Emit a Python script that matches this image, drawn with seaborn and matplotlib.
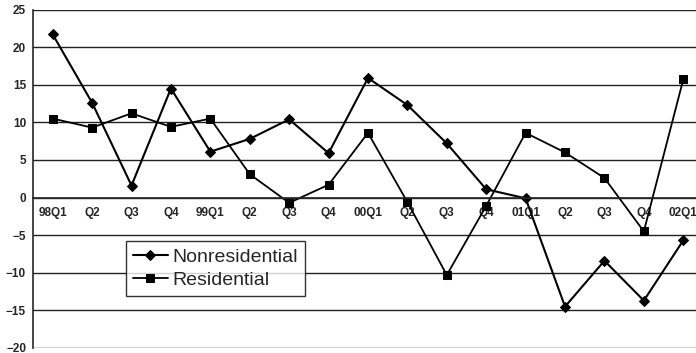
import pandas as pd
import numpy as np
import seaborn as sns
from matplotlib import pyplot as plt

sns.set_style("white")
plt.rcParams['font.family'] = ['Liberation Sans', 'DejaVu Sans']

# Data ~~~~~~~~~~~~~~~~~~~~~~~~~~~~~~~~~~~~~~~~~~~~~~~~~~~~~~~~~~~~~~~~~
periods = ['1998Q1', '1998Q2', '1998Q3', '1998Q4',
           '1999Q1', '1999Q2', '1999Q3', '1999Q4',
           '2000Q1', '2000Q2', '2000Q3', '2000Q4',
           '2001Q1', '2001Q2', '2001Q3', '2001Q4',
           '2002Q1']
tick_labels = ['98Q1', 'Q2', 'Q3', 'Q4', '99Q1', 'Q2', 'Q3', 'Q4',
               '00Q1', 'Q2', 'Q3', 'Q4', '01Q1', 'Q2', 'Q3', 'Q4', '02Q1']
nonresidential = [21.7, 12.6, 1.6, 14.5, 6.1, 7.8, 10.4, 5.9,
                  15.9, 12.3, 7.2, 1.1, -0.1, -14.5, -8.4, -13.7, -5.7]
residential = [10.5, 9.3, 11.2, 9.4, 10.5, 3.1, -0.7, 1.7,
               8.6, -0.6, -10.3, -1.1, 8.6, 6.0, 2.6, -4.5, 15.7]

df = pd.DataFrame({'period': periods,
                   'Nonresidential': nonresidential,
                   'Residential': residential})

fig = plt.figure(figsize=(6.96, 3.53), dpi=100)
ax = fig.add_axes([0.0474, 0.0142, 0.9626, 0.9588])

sns.lineplot(data=df, x='period', y='Nonresidential', sort=False, ax=ax,
             color='black', lw=1.5, marker='D', markersize=5.5,
             markeredgecolor='black', label='Nonresidential')
sns.lineplot(data=df, x='period', y='Residential', sort=False, ax=ax,
             color='black', lw=1.3, marker='s', markersize=6,
             markeredgecolor='black', label='Residential')

n = len(periods)
ax.set_xlim(-0.5, n - 0.5)
ax.set_ylim(-20, 25)
ax.set_yticks(range(-20, 26, 5))
ax.yaxis.grid(True, color='#222222', lw=1)
ax.set_axisbelow(True)

# category axis crossing at zero
ax.spines['bottom'].set_position(('data', 0))
ax.spines['top'].set_visible(False)
ax.spines['right'].set_visible(False)
ax.spines['left'].set_linewidth(1.2)
ax.spines['bottom'].set_linewidth(1.2)
ax.set_xticks(np.arange(n) + 0.5)
ax.set_xticklabels([])
ax.set_xticks(np.arange(n), minor=True)
ax.set_xticklabels(tick_labels, minor=True)
ax.tick_params(axis='x', which='major', direction='inout', length=5, width=1)
ax.tick_params(axis='x', which='minor', length=0, pad=7, labelsize=8.5)
ax.tick_params(axis='y', direction='out', length=3, width=1, pad=2, labelsize=8.5)
for t in ax.get_xticklabels(minor=True) + ax.get_yticklabels():
    t.set_fontweight('bold')
ax.set_xlabel('')
ax.set_ylabel('')

leg = ax.legend(loc='lower left', bbox_to_anchor=(0.139, 0.154), borderaxespad=0,
                fontsize=14, frameon=True, fancybox=False, handlelength=1.8,
                handletextpad=0.25, borderpad=0.35, labelspacing=0.3)
leg.get_frame().set_edgecolor('black')
leg.get_frame().set_linewidth(1)

fig.savefig('out.png', dpi=100)
